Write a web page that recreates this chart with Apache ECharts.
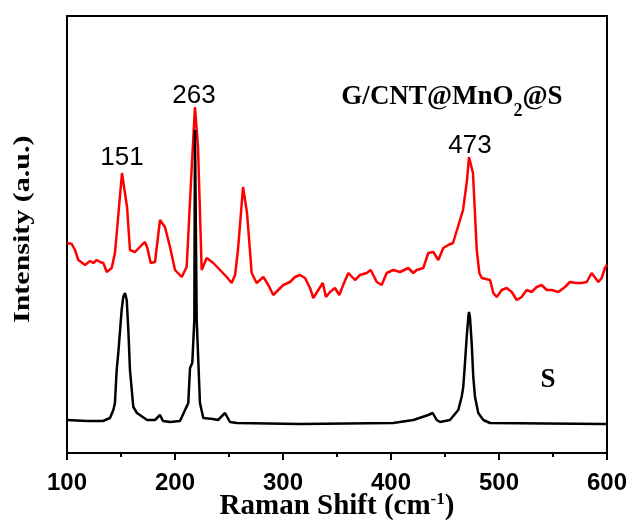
<!DOCTYPE html>
<html>
<head>
<meta charset="utf-8">
<script src="https://cdn.jsdelivr.net/npm/echarts@6/dist/echarts.min.js"></script>
<style>
  html, body { margin: 0; padding: 0; background: #fff; }
</style>
</head>
<body>
<div id="main" style="width: 631px; height: 523px; background: #fff"></div>
<script>
// G/CNT@MnO2@S spectrum (red), Raman shift in cm-1, intensity in a.u.
var redShift = [100, 104.4, 107.4, 110.5, 116.7, 121.3, 124.4, 127.5, 130.6, 133.6,
  136.8, 141.4, 144.4, 146.3, 150.9, 155.6, 158.3, 163, 169.2, 172.2,
  174.4, 177.5, 181.5, 186.1, 190.7, 195.4, 200, 206.2, 210.8, 215.7,
  218.5, 221.3, 224.7, 229.4, 235.5, 241.7, 247.9, 252.5, 255.6, 258.3,
  263, 266.7, 271, 275.6, 278.7, 281.8, 286.4, 291, 295.6, 300.3,
  306.5, 311.1, 315.7, 320.4, 325, 328.1, 332.7, 336.8, 339.8, 343.5,
  348.1, 352.1, 356.5, 360.5, 366.7, 371.3, 377.5, 381.2, 386.8, 391.4,
  396, 402.1, 408.3, 416, 420.6, 423.8, 429.9, 434.5, 439.2, 443.8,
  448.4, 453, 457.4, 461.1, 466.7, 470.4, 472.2, 475.9, 479.4, 481.8,
  484, 491.7, 494.7, 497.9, 502.5, 507.1, 511.8, 516.4, 521, 525.6,
  530.3, 534.9, 539.5, 544.2, 548.8, 554.9, 561.1, 565.7, 571.9, 576.5,
  581.2, 585.8, 592, 595.1, 598.1, 600]
var redIntensity = [210, 209, 203, 193, 188, 192, 190, 193, 191, 190,
  181, 185, 200, 223, 280, 246, 203, 201, 208, 211,
  205, 190, 191, 233, 226, 206, 183, 176, 186, 290,
  346, 306, 183, 195, 190, 183, 176, 170, 178, 203,
  266, 240, 180, 170, 173, 176, 168, 158, 163, 168,
  171, 176, 178, 175, 165, 155, 163, 170, 156, 161,
  165, 158, 170, 180, 173, 178, 180, 183, 171, 168,
  180, 183, 181, 185, 180, 183, 185, 200, 201, 193,
  205, 208, 210, 223, 243, 273, 296, 280, 203, 180,
  175, 173, 160, 156, 163, 165, 161, 153, 156, 163,
  161, 166, 168, 163, 163, 161, 166, 171, 170, 170,
  171, 180, 171, 175, 185, 188]

// S spectrum (black)
var sShift = [100, 118.5, 133.3, 139.8, 142.9, 144.4, 146, 147.5, 150.6, 152.1,
  153.7, 155.3, 156.8, 158.3, 161.4, 164.8, 174.1, 181.5, 186.1, 188.9,
  195.4, 204.6, 212.3, 213.9, 216, 217.9, 218.5, 220.1, 223.1, 226.2,
  235.2, 239.8, 246.3, 250.9, 257.4, 315.7, 401.9, 420.7, 434.5, 438.6,
  442.3, 445.4, 454.6, 462.3, 465.4, 466.9, 468.5, 470.1, 471.6, 472.2,
  473.1, 474.7, 476.2, 477.8, 480.8, 485.5, 491.7, 596.3, 600]
var sIntensity = [33, 32, 32, 35, 43, 50, 83, 100, 143, 156,
  160, 153, 123, 83, 46, 40, 33, 33, 38, 32,
  31, 32, 50, 85, 90, 133, 323, 133, 50, 35,
  34, 33, 40, 31, 30, 29, 30, 33, 38, 40,
  33, 31, 33, 43, 56, 66, 90, 116, 136, 141,
  136, 110, 76, 56, 40, 33, 30, 29, 29]

var xTicks = [100, 200, 300, 400, 500, 600]
var peakLabels = ['151', '263', '473']

var serif = 'Times New Roman, Liberation Serif, serif'
var sans = 'Arial, Liberation Sans, sans-serif'

function pairs (xs, ys) {
  return xs.map(function (x, i) { return [x, ys[i]] })
}

var mychart = echarts.init(document.getElementById('main'))
var option = {
  backgroundColor: '#fff',
  animation: false,
  grid: {
    left: 67,
    right: 24,
    top: 16,
    bottom: 70,
    outerBoundsMode: 'none',
    containLabel: false,
    show: true,
    borderColor: '#000',
    borderWidth: 2,
    backgroundColor: 'transparent'
  },
  xAxis: {
    type: 'value',
    min: xTicks[0],
    max: xTicks[xTicks.length - 1],
    interval: 100,
    name: 'Raman Shift (cm{sup|-1})',
    nameLocation: 'middle',
    nameGap: 38,
    nameMoveOverlap: false,
    nameTextStyle: {
      fontFamily: serif,
      fontWeight: 'bold',
      fontSize: 29,
      color: '#000',
      rich: {
        sup: { fontFamily: serif, fontWeight: 'bold', fontSize: 17, color: '#000', padding: [0, 0, 14, 0] }
      }
    },
    axisLine: { lineStyle: { color: '#000', width: 2 } },
    axisTick: { show: true, length: 7, lineStyle: { color: '#000', width: 2 } },
    minorTick: { show: true, splitNumber: 2, length: 4, lineStyle: { color: '#000', width: 2 } },
    splitLine: { show: false },
    axisLabel: {
      fontFamily: sans,
      fontWeight: 'bold',
      fontSize: 24,
      color: '#000',
      margin: 18
    }
  },
  yAxis: {
    type: 'value',
    min: 0,
    max: 437,
    axisLine: { show: true, lineStyle: { color: '#000', width: 2 } },
    axisTick: { show: false },
    axisLabel: { show: false },
    splitLine: { show: false }
  },
  series: [
    {
      name: 'G/CNT@MnO2@S',
      type: 'line',
      symbol: 'none',
      data: pairs(redShift, redIntensity),
      lineStyle: { color: '#ff0000', width: 2.5 },
      z: 3
    },
    {
      name: 'S',
      type: 'line',
      symbol: 'none',
      data: pairs(sShift, sIntensity),
      lineStyle: { color: '#000', width: 2.5 },
      z: 4
    }
  ],
  graphic: [
    // y axis title, stretched like the original figure
    {
      type: 'text',
      x: 11,
      y: 323,
      rotation: Math.PI / 2,
      scaleX: 1.25,
      style: { text: 'Intensity (a.u.)', font: 'bold 24px ' + serif, fill: '#000', align: 'left', verticalAlign: 'top' }
    },
    { type: 'text', x: 122, y: 145, style: { text: peakLabels[0], font: '26px ' + sans, fill: '#000', align: 'center', verticalAlign: 'top' } },
    { type: 'text', x: 194, y: 83, style: { text: peakLabels[1], font: '26px ' + sans, fill: '#000', align: 'center', verticalAlign: 'top' } },
    { type: 'text', x: 470, y: 133, style: { text: peakLabels[2], font: '26px ' + sans, fill: '#000', align: 'center', verticalAlign: 'top' } },
    {
      type: 'text',
      x: 452,
      y: 75,
      style: {
        text: '{a|G/CNT@MnO}{b|2}{a|@S}',
        align: 'center',
        verticalAlign: 'top',
        rich: {
          a: { fontFamily: serif, fontWeight: 'bold', fontSize: 27, fill: '#000', color: '#000' },
          b: { fontFamily: serif, fontWeight: 'bold', fontSize: 18, fill: '#000', color: '#000', padding: [27, 0, 0, 0] }
        }
      }
    },
    { type: 'text', x: 548, y: 367, style: { text: 'S', font: 'bold 27px ' + serif, fill: '#000', align: 'center', verticalAlign: 'top' } }
  ]
}
mychart.setOption(option)
</script>
</body>
</html>
